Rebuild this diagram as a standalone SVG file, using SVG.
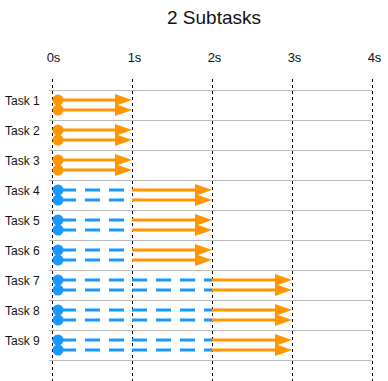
<svg xmlns="http://www.w3.org/2000/svg" width="388" height="381" viewBox="0 0 388 381">
<style>
text{font-family:"Liberation Sans",Arial,sans-serif;fill:#111}
.title{font-size:19px;text-anchor:middle}
.tick{font-size:13px;text-anchor:middle}
.lbl{font-size:12px}
.grid{stroke:#bbb;stroke-width:1}
.vdash{stroke:#000;stroke-width:1;stroke-dasharray:3,3}
.o{stroke:#ff9500;stroke-width:3;fill:none}
.b{stroke:#1a98ff;stroke-width:3;fill:none;stroke-dasharray:15,9}
.oc{fill:#ff9500}
.bc{fill:#1a98ff}
.ah{fill:#ff9500}
</style>
<defs>
<polygon id="head" points="-17,-6 0,0 -17,6"/>
</defs>
<rect width="388" height="381" fill="#fff"/>
<text class="title" x="214" y="24">2 Subtasks</text>
<g id="axis">
<text class="tick" x="53.5" y="62">0s</text>
<text class="tick" x="134.5" y="62">1s</text>
<text class="tick" x="214.5" y="62">2s</text>
<text class="tick" x="294.5" y="62">3s</text>
<text class="tick" x="374.5" y="62">4s</text>
</g>
<g id="grid">
<line class="grid" x1="49" y1="90.5" x2="372.5" y2="90.5"/>
<line class="grid" x1="49" y1="120.5" x2="372.5" y2="120.5"/>
<line class="grid" x1="49" y1="150.5" x2="372.5" y2="150.5"/>
<line class="grid" x1="49" y1="180.5" x2="372.5" y2="180.5"/>
<line class="grid" x1="49" y1="210.5" x2="372.5" y2="210.5"/>
<line class="grid" x1="49" y1="240.5" x2="372.5" y2="240.5"/>
<line class="grid" x1="49" y1="270.5" x2="372.5" y2="270.5"/>
<line class="grid" x1="49" y1="300.5" x2="372.5" y2="300.5"/>
<line class="grid" x1="49" y1="330.5" x2="372.5" y2="330.5"/>
<line class="grid" x1="49" y1="360.5" x2="372.5" y2="360.5"/>
<line class="vdash" x1="52.5" y1="79" x2="52.5" y2="381"/>
<line class="vdash" x1="132.5" y1="79" x2="132.5" y2="381"/>
<line class="vdash" x1="212.5" y1="79" x2="212.5" y2="381"/>
<line class="vdash" x1="292.5" y1="79" x2="292.5" y2="381"/>
<line class="vdash" x1="372.5" y1="79" x2="372.5" y2="381"/>
</g>
<g id="connectors">
<path class="o" d="M58,100H118M58,110H118M58,130H118M58,140H118M58,160H118M58,170H118"/>
<use href="#head" class="ah" x="132" y="100"/><use href="#head" class="ah" x="132" y="110"/>
<use href="#head" class="ah" x="132" y="130"/><use href="#head" class="ah" x="132" y="140"/>
<use href="#head" class="ah" x="132" y="160"/><use href="#head" class="ah" x="132" y="170"/>
<path class="b" d="M61,190H132M61,200H132M61,220H132M61,230H132M61,250H132M61,260H132"/>
<path class="o" d="M132,190H198M132,200H198M132,220H198M132,230H198M132,250H198M132,260H198"/>
<use href="#head" class="ah" x="212" y="190"/><use href="#head" class="ah" x="212" y="200"/>
<use href="#head" class="ah" x="212" y="220"/><use href="#head" class="ah" x="212" y="230"/>
<use href="#head" class="ah" x="212" y="250"/><use href="#head" class="ah" x="212" y="260"/>
<path class="b" d="M61,280H132M61,290H132M61,310H132M61,320H132M61,340H132M61,350H132"/>
<path class="b" d="M132,280H212M132,290H212M132,310H212M132,320H212M132,340H212M132,350H212"/>
<path class="o" d="M212,280H278M212,290H278M212,310H278M212,320H278M212,340H278M212,350H278"/>
<use href="#head" class="ah" x="292" y="280"/><use href="#head" class="ah" x="292" y="290"/>
<use href="#head" class="ah" x="292" y="310"/><use href="#head" class="ah" x="292" y="320"/>
<use href="#head" class="ah" x="292" y="340"/><use href="#head" class="ah" x="292" y="350"/>
</g>
<g id="task1"><text class="lbl" x="5" y="105">Task 1</text><circle class="oc" cx="58" cy="100" r="5.5"/><circle class="oc" cx="58" cy="110" r="5.5"/></g>
<g id="task2"><text class="lbl" x="5" y="135">Task 2</text><circle class="oc" cx="58" cy="130" r="5.5"/><circle class="oc" cx="58" cy="140" r="5.5"/></g>
<g id="task3"><text class="lbl" x="5" y="165">Task 3</text><circle class="oc" cx="58" cy="160" r="5.5"/><circle class="oc" cx="58" cy="170" r="5.5"/></g>
<g id="task4"><text class="lbl" x="5" y="195">Task 4</text><circle class="bc" cx="58" cy="190" r="5.5"/><circle class="bc" cx="58" cy="200" r="5.5"/></g>
<g id="task5"><text class="lbl" x="5" y="225">Task 5</text><circle class="bc" cx="58" cy="220" r="5.5"/><circle class="bc" cx="58" cy="230" r="5.5"/></g>
<g id="task6"><text class="lbl" x="5" y="255">Task 6</text><circle class="bc" cx="58" cy="250" r="5.5"/><circle class="bc" cx="58" cy="260" r="5.5"/></g>
<g id="task7"><text class="lbl" x="5" y="285">Task 7</text><circle class="bc" cx="58" cy="280" r="5.5"/><circle class="bc" cx="58" cy="290" r="5.5"/></g>
<g id="task8"><text class="lbl" x="5" y="315">Task 8</text><circle class="bc" cx="58" cy="310" r="5.5"/><circle class="bc" cx="58" cy="320" r="5.5"/></g>
<g id="task9"><text class="lbl" x="5" y="345">Task 9</text><circle class="bc" cx="58" cy="340" r="5.5"/><circle class="bc" cx="58" cy="350" r="5.5"/></g>
</svg>
